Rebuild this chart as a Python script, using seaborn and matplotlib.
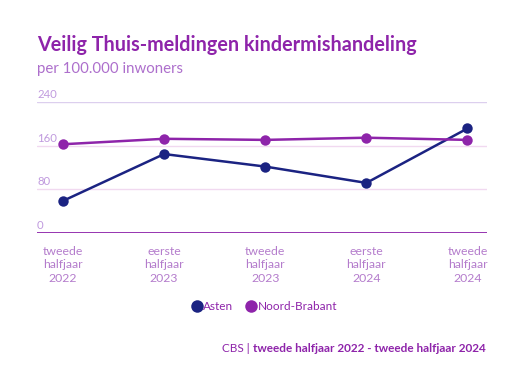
import matplotlib
matplotlib.use("Agg")
import matplotlib.pyplot as plt
import matplotlib.transforms as mtransforms
from matplotlib.lines import Line2D
import seaborn as sns
import pandas as pd

periods = ["tweede\nhalfjaar\n2022", "eerste\nhalfjaar\n2023", "tweede\nhalfjaar\n2023",
           "eerste\nhalfjaar\n2024", "tweede\nhalfjaar\n2024"]
asten = [59, 145, 122, 92, 192]
noord_brabant = [163, 173, 171, 175, 171]
y_ticks = [0, 80, 160, 240]
series_names = ["Asten", "Noord-Brabant"]
colors = {"Asten": "#1b2382", "Noord-Brabant": "#8e24aa"}

df = pd.DataFrame({
    "x": list(range(len(periods))) * 2,
    "value": asten + noord_brabant,
    "serie": ["Asten"] * len(asten) + ["Noord-Brabant"] * len(noord_brabant),
})

sns.set_theme(style="white")
plt.rcParams["font.family"] = ["Lato", "DejaVu Sans"]

fig = plt.figure(figsize=(5.22, 3.73), dpi=100)
ax = fig.add_axes([0.0709, 0.3753, 0.8615, 0.3504])

# gridlines
for t in y_ticks[1:]:
    col = "#dccfee" if t == 240 else "#f1d9f0"
    ax.axhline(t, color=col, lw=1.0, zorder=0)
ax.axhline(0, color="#8e24aa", lw=1.3, zorder=1)

sns.lineplot(data=df, x="x", y="value", hue="serie", palette=colors,
             marker="o", markersize=7.5, markeredgewidth=0, linewidth=1.8,
             legend=False, ax=ax, zorder=3)

ax.set_xlim(-0.257, 4.19)
ax.set_ylim(0, 240)
for s in ax.spines.values():
    s.set_visible(False)
ax.set_yticks([])
ax.set_xlabel("")
ax.set_ylabel("")
ax.set_xticks(range(len(periods)))
ax.set_xticklabels(periods, fontsize=8.8, color="#b47ccc", linespacing=1.3)
ax.tick_params(axis="x", length=0, pad=9)

trans = mtransforms.blended_transform_factory(ax.transAxes, ax.transData)
for t in y_ticks:
    ax.text(0.0, t + 4, str(t), transform=trans, ha="left", va="bottom",
            fontsize=8.2, color="#c09ade")

fig.text(37 / 522, 1 - 45 / 373, "Veilig Thuis-meldingen kindermishandeling",
         fontsize=14.2, fontweight="bold", color="#8e24aa", ha="left", va="center")
fig.text(37 / 522, 1 - 69 / 373, "per 100.000 inwoners",
         fontsize=10.8, color="#ad6fcc", ha="left", va="center")

handles = [Line2D([0], [0], marker="o", linestyle="none", markersize=9,
                  markerfacecolor=colors[n], markeredgewidth=0) for n in series_names]
leg = fig.legend(handles, series_names, loc="center", bbox_to_anchor=(264 / 522, 1 - 307 / 373),
                 ncol=2, frameon=False, fontsize=8.5, handletextpad=0.05,
                 columnspacing=1.0, handlelength=1.0)
for t in leg.get_texts():
    t.set_color("#8e24aa")

footer_main = fig.text(486 / 522, 1 - 348 / 373, "tweede halfjaar 2022 - tweede halfjaar 2024",
                       fontsize=8.5, fontweight="bold", color="#8e24aa", ha="right", va="center")
r = fig.canvas.get_renderer()
bb = footer_main.get_window_extent(renderer=r)
fig.text((bb.x0 - 3) / fig.bbox.width, 1 - 348 / 373, "CBS |",
         fontsize=8.5, color="#8e24aa", ha="right", va="center")

fig.savefig("out.png", dpi=100)
